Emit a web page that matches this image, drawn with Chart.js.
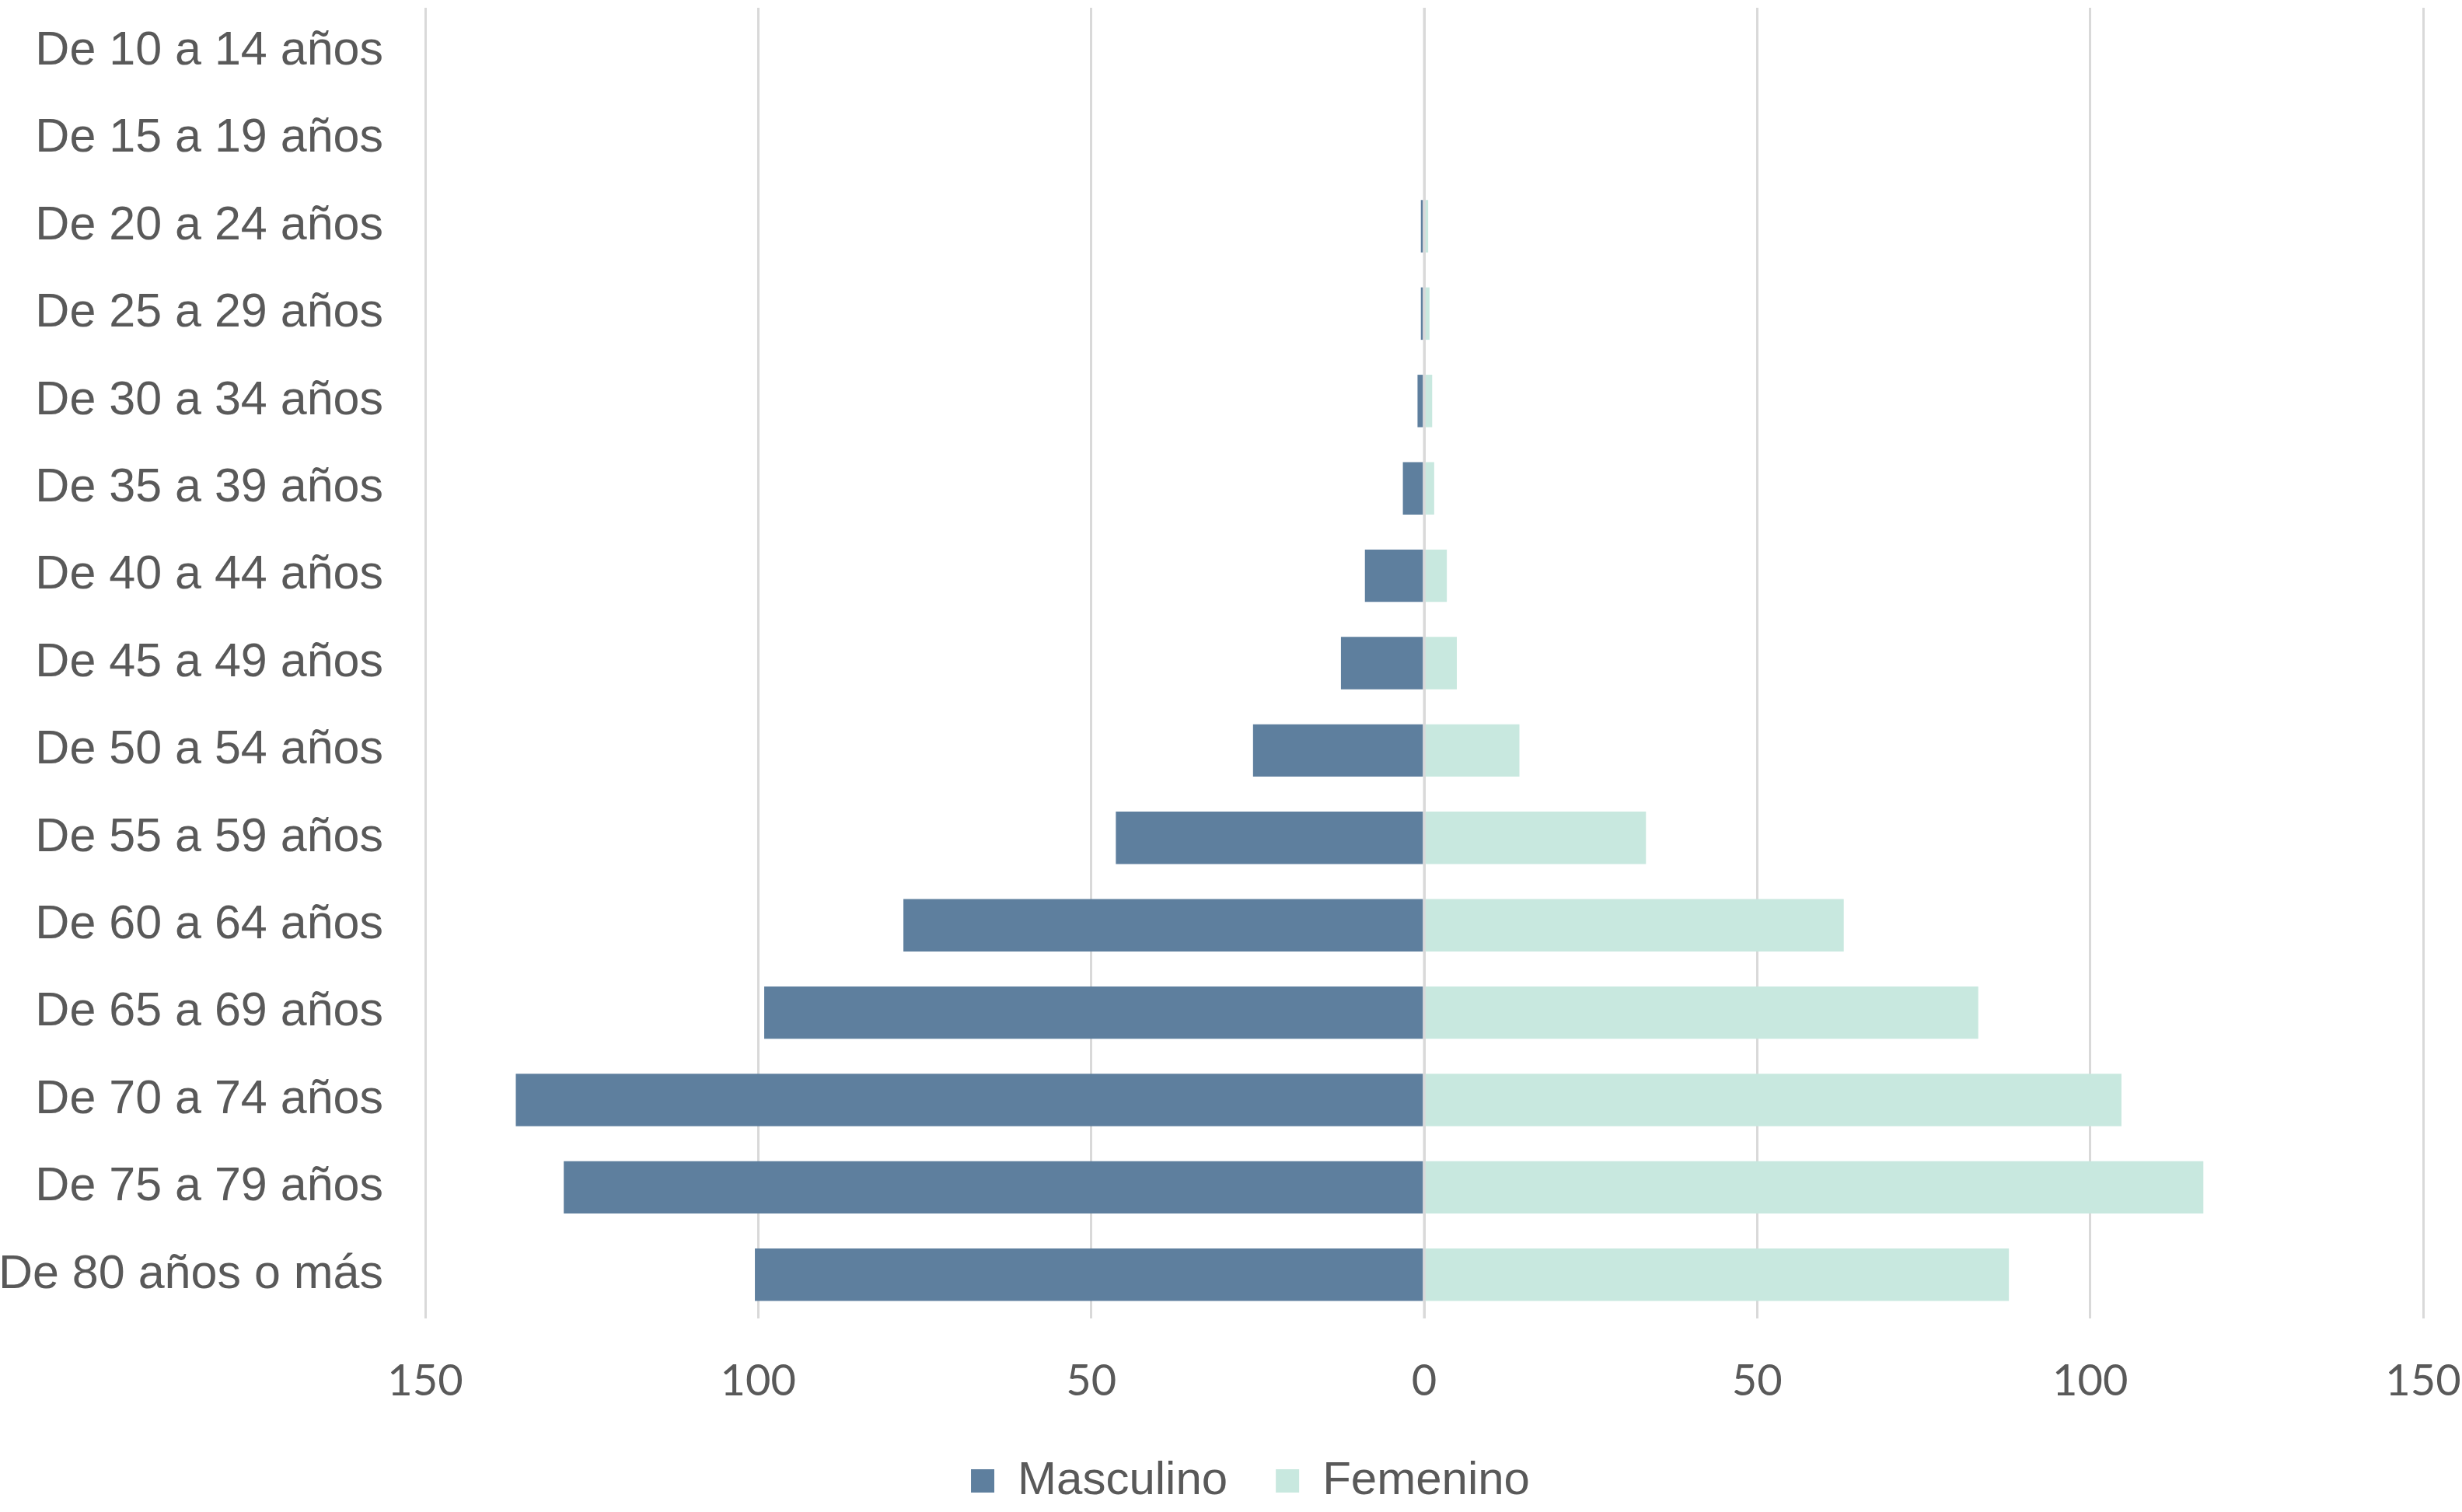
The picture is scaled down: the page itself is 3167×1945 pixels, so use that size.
<!DOCTYPE html>
<html>
<head>
<meta charset="utf-8">
<script src="https://cdn.jsdelivr.net/npm/chart.js@4"></script>
<style>
  html, body { margin: 0; padding: 0; background: #ffffff; }
  #wrap { width: 3167px; height: 1945px; }
</style>
</head>
<body>
<div id="wrap"><canvas id="c" width="3167" height="1945"></canvas></div>
<script>
const categories = [
  "De 10 a 14 años", "De 15 a 19 años", "De 20 a 24 años", "De 25 a 29 años",
  "De 30 a 34 años", "De 35 a 39 años", "De 40 a 44 años", "De 45 a 49 años",
  "De 50 a 54 años", "De 55 a 59 años", "De 60 a 64 años", "De 65 a 69 años",
  "De 70 a 74 años", "De 75 a 79 años", "De 80 años o más"
];
const masculino = [0, 0, 0.5, 0.5, 1.0, 3.2, 8.9, 12.5, 25.7, 46.3, 78.2, 99.1, 136.4, 129.2, 100.5];
const femenino  = [0, 0, 0.6, 0.8, 1.2, 1.5, 3.4, 4.9, 14.3, 33.3, 63.0, 83.2, 104.7, 117.0, 87.8];
const seriesNames = ["Masculino", "Femenino"];
const xTicks = [-150, -100, -50, 0, 50, 100, 150];

const textColor = "#595959";
const gridColor = "#d9d9d9";

const zeroLinePlugin = {
  id: "zeroLine",
  afterLayout(chart) {
    if (chart.legend) {
      chart.legend.left += 50;
      chart.legend.right += 50;
    }
  },
  afterDatasetsDraw(chart) {
    const x = chart.scales.x.getPixelForValue(0);
    const { top, bottom } = chart.chartArea;
    const ctx = chart.ctx;
    ctx.save();
    ctx.strokeStyle = gridColor;
    ctx.lineWidth = 3;
    ctx.beginPath();
    ctx.moveTo(x, top);
    ctx.lineTo(x, bottom);
    ctx.stroke();
    ctx.restore();
  }
};

new Chart(document.getElementById("c"), {
  type: "bar",
  data: {
    labels: categories,
    datasets: [
      {
        label: seriesNames[0],
        data: masculino.map(v => -v),
        backgroundColor: "#5e7f9e",
        borderWidth: 0,
        barPercentage: 0.6,
        categoryPercentage: 1.0
      },
      {
        label: seriesNames[1],
        data: femenino,
        backgroundColor: "#c8e8df",
        borderWidth: 0,
        barPercentage: 0.6,
        categoryPercentage: 1.0
      }
    ]
  },
  options: {
    indexAxis: "y",
    responsive: false,
    animation: false,
    devicePixelRatio: 1,
    layout: { padding: { left: 0, right: 50, top: 10, bottom: 0 } },
    scales: {
      x: {
        stacked: true,
        min: -150,
        max: 150,
        afterBuildTicks(scale) { scale.ticks = xTicks.map(v => ({ value: v })); },
        afterFit(scale) {
          scale.height = 117;
          scale.paddingLeft = 0;
          scale.paddingRight = 0;
        },
        grid: { color: gridColor, lineWidth: 3, drawTicks: false },
        border: { display: false },
        ticks: {
          padding: 47,
          color: textColor,
          font: { family: "Lato, 'Open Sans', sans-serif", size: 56 },
          callback: (v) => Math.abs(v)
        }
      },
      y: {
        stacked: true,
        afterFit(scale) {
          scale.width = 547;
          scale.paddingTop = 0;
          scale.paddingBottom = 0;
        },
        grid: { display: false, drawTicks: false },
        border: { display: false },
        ticks: {
          padding: 54,
          color: textColor,
          font: { family: "'Liberation Sans', Arial, sans-serif", size: 61 }
        }
      }
    },
    plugins: {
      legend: {
        position: "bottom",
        labels: {
          boxWidth: 30,
          boxHeight: 30,
          padding: 62,
          color: textColor,
          font: { family: "'Liberation Sans', Arial, sans-serif", size: 60 }
        }
      },
      tooltip: { enabled: false }
    }
  },
  plugins: [zeroLinePlugin]
});
</script>
</body>
</html>
